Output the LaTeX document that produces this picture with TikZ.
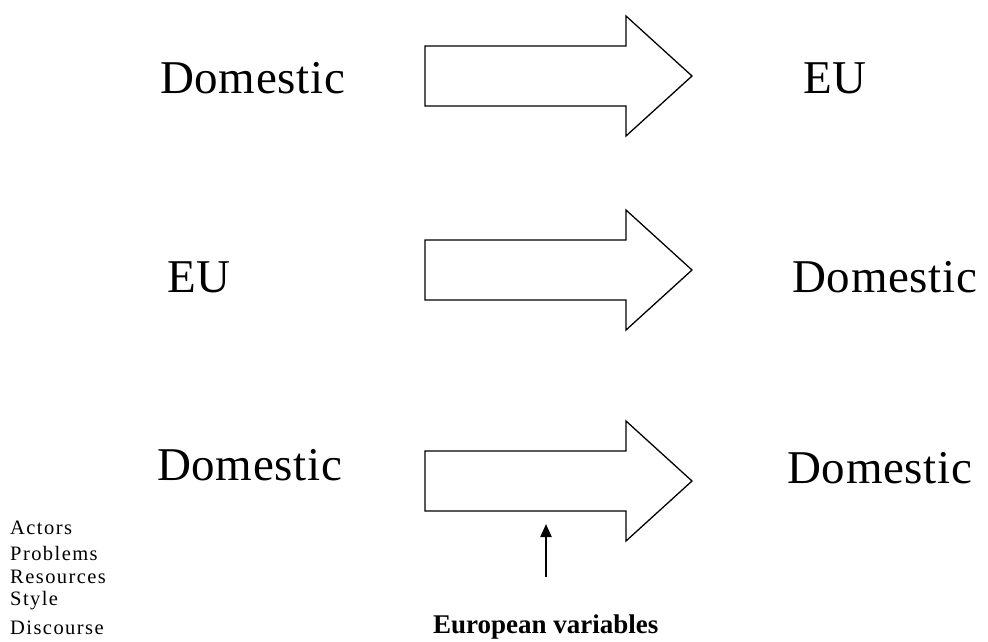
\documentclass[tikz,border=0pt]{standalone}
\usepackage{fontspec}
\setmainfont{Liberation Serif}
\newfontfamily\bigfont[LetterSpace=1.5]{Liberation Serif}
\newfontfamily\listfont[LetterSpace=7]{Liberation Serif}
\usetikzlibrary{arrows.meta}
\tikzset{
  bigtext/.style={font=\bigfont\fontsize{47}{50}\selectfont, anchor=base west, inner sep=0pt},
  listtext/.style={font=\listfont\fontsize{20.5}{22}\selectfont, anchor=base west, inner sep=0pt},
  boldtext/.style={font=\bfseries\fontsize{27}{30}\selectfont, anchor=base west, inner sep=0pt},
  fatline/.style={draw=black, line width=1.3pt, line join=miter},
  fatarrow/.pic={\draw[fatline] (0,-30) -- (201,-30) -- (201,-60) -- (267,0) -- (201,60) -- (201,30) -- (0,30) -- cycle;},
}
\begin{document}
\begin{tikzpicture}[x=1pt,y=-1pt]
\useasboundingbox[fill=white] (0,0) rectangle (988,641);
% row 1
\node[bigtext] (d1) at (160,93) {Domestic};
\pic (a1) at (425,76) {fatarrow};
\node[bigtext] (e1) at (803,93) {EU};
% row 2
\node[bigtext] (e2) at (167,292) {EU};
\pic (a2) at (425,270) {fatarrow};
\node[bigtext] (d2) at (792,292) {Domestic};
% row 3
\node[bigtext] (d3) at (157,480) {Domestic};
\pic (a3) at (425,481) {fatarrow};
\node[bigtext] (d4) at (787,483) {Domestic};
% variables list
\node[listtext] (l1) at (10,534) {Actors};
\node[listtext] (l2) at (10,560) {Problems};
\node[listtext] (l3) at (10,583) {Resources};
\node[listtext] (l4) at (10,605) {Style};
\node[listtext] (l5) at (10,634) {Discourse};
% european variables
\node[boldtext] (ev) at (433,633) {European variables};
\coordinate (vs) at (546,577);
\coordinate (ve) at (546,524);
\draw[line width=2pt, -{Triangle[width=11pt,length=13pt]}] (vs) -- (ve);
\end{tikzpicture}
\end{document}
